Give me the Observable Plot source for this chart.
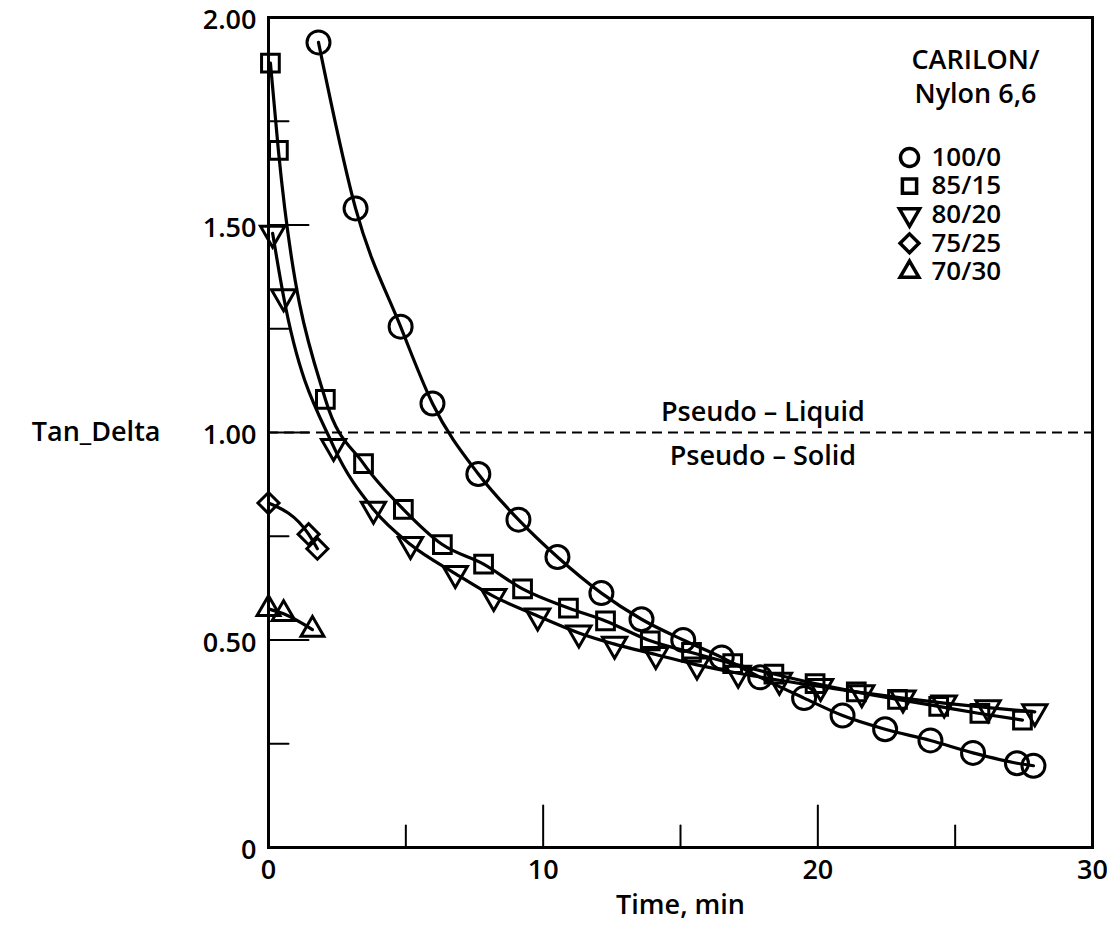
<!DOCTYPE html>
<html>
<head>
<meta charset="utf-8">
<script src="https://cdn.jsdelivr.net/npm/d3@7"></script>
<script src="https://cdn.jsdelivr.net/npm/@observablehq/plot@0.6"></script>
<style>
  html, body { margin: 0; padding: 0; background: #fff; }
  #chart svg { font-family: "Open Sans", sans-serif; }
</style>
</head>
<body>
<div id="chart"></div>
<script>
// ---- data ----
const seriesNames = ["100/0", "85/15", "80/20", "75/25", "70/30"];

const time100 = [1.82, 3.17, 4.81, 5.97, 7.64, 9.10, 10.52, 12.12, 13.58, 15.1, 16.5, 17.9, 19.5, 20.9, 22.45, 24.1, 25.65, 27.25, 27.85];
const tan100  = [1.94, 1.54, 1.255, 1.07, 0.90, 0.79, 0.70, 0.613, 0.55, 0.50, 0.458, 0.41, 0.36, 0.318, 0.285, 0.258, 0.228, 0.203, 0.197];

const time85 = [0.07, 0.36, 2.07, 3.46, 4.91, 6.33, 7.83, 9.25, 10.92, 12.27, 13.9, 15.4, 16.9, 18.4, 19.9, 21.4, 22.9, 24.4, 25.9, 27.45];
const tan85  = [1.89, 1.68, 1.08, 0.925, 0.815, 0.73, 0.683, 0.623, 0.577, 0.546, 0.498, 0.47, 0.443, 0.418, 0.395, 0.375, 0.357, 0.34, 0.323, 0.307];

const time80 = [0.15, 0.55, 2.37, 3.82, 5.17, 6.8, 8.2, 9.8, 11.3, 12.6, 14.1, 15.6, 17.1, 18.6, 20.1, 21.6, 23.1, 24.6, 26.2, 27.9];
const tan80  = [1.48, 1.327, 0.966, 0.815, 0.73, 0.66, 0.605, 0.558, 0.517, 0.49, 0.465, 0.44, 0.42, 0.403, 0.388, 0.373, 0.36, 0.348, 0.337, 0.327];

const time75 = [0, 1.46, 1.78];
const tan75  = [0.83, 0.755, 0.72];

const time70 = [0, 0.55, 1.6];
const tan70  = [0.575, 0.563, 0.525];

const xLabelTicks = [0, 10, 20, 30];
const xMajorTicks = [10, 20];
const xMinorTicks = [5, 15, 25];
const yLabelTicks = [0, 0.5, 1, 1.5, 2];
const yMajorTicks = [0.5, 1, 1.5];
const yMinorTicks = [0.25, 0.75, 1.25, 1.75];
const boundary = [1];
const legendTitle = ["CARILON/", "Nylon 6,6"];

// ---- symbols ----
const sqrt3 = Math.sqrt(3);
const triangleDown = {
  draw(context, size) {
    const y = -Math.sqrt(size / (sqrt3 * 3));
    context.moveTo(0, -y * 2);
    context.lineTo(-sqrt3 * y, y);
    context.lineTo(sqrt3 * y, y);
    context.closePath();
  }
};
const symbols = ["circle", "square", triangleDown, "diamond2", "triangle"];
const dataR   = [11.5, 10, 9, 9.5, 8.5];
const legendR = [9, 8, 7.5, 8.5, 7];

const series = [
  {time: time100, tan: tan100},
  {time: time85, tan: tan85},
  {time: time80, tan: tan80},
  {time: time75, tan: tan75},
  {time: time70, tan: tan70}
];

const rows = series.map((s, i) =>
  s.time.map((t, j) => ({series: seriesNames[i], idx: i, t, v: s.tan[j]}))
);

const tickShape = {
  draw(context, l) { context.moveTo(0, 0); context.lineTo(0, -l); }
};

const FONT = 27;
const W = 600;

const marks = [];

// boundary line
marks.push(Plot.ruleY(boundary, {stroke: "black", strokeWidth: 2, strokeDasharray: "10,6"}));

// frame & inner ticks
marks.push(Plot.frame({stroke: "black", strokeWidth: 3}));
marks.push(Plot.vector(xMajorTicks, {x: d => d, frameAnchor: "bottom", length: 42, anchor: "start", shape: tickShape, stroke: "black", strokeWidth: 2}));
marks.push(Plot.vector(xMinorTicks, {x: d => d, frameAnchor: "bottom", length: 22, anchor: "start", shape: tickShape, stroke: "black", strokeWidth: 2}));
marks.push(Plot.vector(yMajorTicks, {y: d => d, frameAnchor: "left", length: 40, rotate: 90, anchor: "start", shape: tickShape, stroke: "black", strokeWidth: 2}));
marks.push(Plot.vector(yMinorTicks, {y: d => d, frameAnchor: "left", length: 20, rotate: 90, anchor: "start", shape: tickShape, stroke: "black", strokeWidth: 2}));

// axes labels
marks.push(Plot.axisX({ticks: xLabelTicks, tickSize: 0, tickPadding: 12, tickFormat: d => String(d), fontSize: FONT, fontWeight: W, label: null}));
marks.push(Plot.axisY({ticks: yLabelTicks, tickSize: 0, tickPadding: 12, dy: 3, tickFormat: d => d === 0 ? "0" : d.toFixed(2), fontSize: FONT, fontWeight: W, label: null}));
marks.push(Plot.text(["Time, min"], {frameAnchor: "bottom", dy: 58, text: d => d, fontSize: FONT, fontWeight: W, lineAnchor: "middle", textAnchor: "middle"}));
marks.push(Plot.text(["Tan_Delta"], {frameAnchor: "left", dx: -108, text: d => d, textAnchor: "end", lineAnchor: "middle", fontSize: FONT, fontWeight: W}));

// annotations
marks.push(Plot.text(["Pseudo \u2013 Liquid"], {x: () => 18, y: () => boundary[0], dy: -20, text: d => d, fontSize: FONT, fontWeight: W}));
marks.push(Plot.text(["Pseudo \u2013 Solid"], {x: () => 18, y: () => boundary[0], dy: 24, text: d => d, fontSize: FONT, fontWeight: W}));

// curves and markers
rows.forEach((r) => {
  marks.push(Plot.line(r, {x: "t", y: "v", curve: "monotone-x", stroke: "black", strokeWidth: 3.2}));
});
rows.forEach((r, i) => {
  marks.push(Plot.dot(r, {x: "t", y: "v", symbol: symbols[i], r: dataR[i], fill: "none", stroke: "black", strokeWidth: 3}));
});

// legend
legendTitle.forEach((txt, i) => {
  marks.push(Plot.text([txt], {frameAnchor: "top-left", dx: 707, dy: 43 + i * 34, text: d => d, textAnchor: "middle", lineAnchor: "middle", fontSize: FONT, fontWeight: W}));
});
seriesNames.forEach((name, i) => {
  marks.push(Plot.dot([name], {frameAnchor: "top-left", dx: 641, dy: 140 + i * 28.6, symbol: symbols[i], r: legendR[i], fill: "none", stroke: "black", strokeWidth: 3.5}));
  marks.push(Plot.text([name], {frameAnchor: "top-left", dx: 663, dy: 140 + i * 28.6, text: d => d, textAnchor: "start", lineAnchor: "middle", fontSize: 26, fontWeight: W}));
});

const chart = Plot.plot({
  width: 1107,
  height: 929,
  marginLeft: 268,
  marginRight: 15,
  marginTop: 17,
  marginBottom: 82,
  x: {domain: [0, 30], axis: null},
  y: {domain: [0, 2], axis: null},
  style: {background: "#fff", color: "black", fontFamily: "Open Sans, sans-serif"},
  marks
});
document.getElementById("chart").appendChild(chart);
</script>
</body>
</html>
